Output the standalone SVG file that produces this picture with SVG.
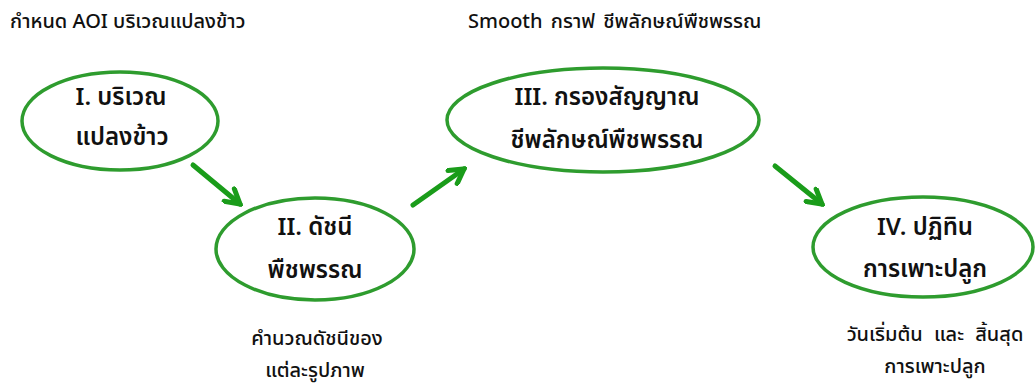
<svg xmlns="http://www.w3.org/2000/svg" width="1036" height="389" viewBox="0 0 1036 389">
<defs>
<marker id="ah" viewBox="0 0 20 20" refX="17" refY="10" markerWidth="20" markerHeight="20" markerUnits="userSpaceOnUse" orient="auto">
<path d="M3,2 L17,10 L3,18" fill="none" stroke="#1a9c1a" stroke-width="5" stroke-linecap="round" stroke-linejoin="miter"/>
</marker>
</defs>
<style>
.node ellipse{fill:#fff;stroke:#2e9c2e;stroke-width:3.5}
.t{font-family:"Noto Sans Thai","Noto Sans","DejaVu Sans",sans-serif;fill:#111;text-anchor:middle}
.nt{font-size:24px;font-weight:600}
.st{font-size:20px;font-weight:500}
.hd{font-size:20px;font-weight:500;text-anchor:start}
.conn line{stroke:#1a9c1a;stroke-width:5;stroke-linecap:round;marker-end:url(#ah)}
</style>
<rect width="1036" height="389" fill="#fff"/>
<text class="t hd" x="10" y="28">กำหนด AOI บริเวณแปลงข้าว</text>
<text class="t hd" x="468" y="28" word-spacing="3">Smooth กราฟ ชีพลักษณ์พืชพรรณ</text>
<g class="conn">
<line x1="193" y1="165" x2="240" y2="204"/>
<line x1="413" y1="205" x2="464" y2="169"/>
<line x1="775" y1="166" x2="822" y2="204"/>
</g>
<g id="n1" class="node">
<ellipse cx="120" cy="121" rx="98" ry="49"/>
<text class="t nt" x="121" y="105">I. บริเวณ</text>
<text class="t nt" x="122" y="145">แปลงข้าว</text>
</g>
<g id="n2" class="node">
<ellipse cx="315" cy="249" rx="99" ry="51"/>
<text class="t nt" x="315" y="235">II. ดัชนี</text>
<text class="t nt" x="315" y="278">พืชพรรณ</text>
</g>
<g id="n3" class="node">
<ellipse cx="603" cy="120" rx="156" ry="52"/>
<text class="t nt" x="607" y="105">III. กรองสัญญาณ</text>
<text class="t nt" x="607" y="148">ชีพลักษณ์พืชพรรณ</text>
</g>
<g id="n4" class="node">
<ellipse cx="923" cy="247" rx="110" ry="50"/>
<text class="t nt" x="925" y="235">IV. ปฏิทิน</text>
<text class="t nt" x="925" y="277">การเพาะปลูก</text>
</g>
<g id="l2">
<text class="t st" x="317" y="345">คำนวณดัชนีของ</text>
<text class="t st" x="315" y="377">แต่ละรูปภาพ</text>
</g>
<g id="l4">
<text class="t st" x="935" y="341" word-spacing="6">วันเริ่มต้น และ สิ้นสุด</text>
<text class="t st" x="935" y="373">การเพาะปลูก</text>
</g>
</svg>
